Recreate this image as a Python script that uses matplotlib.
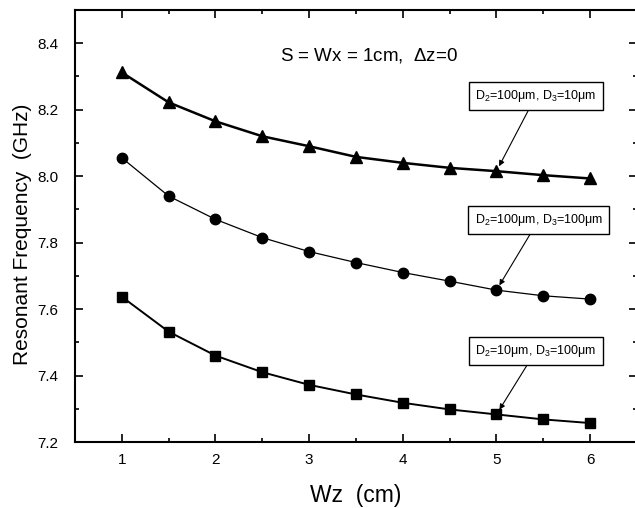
import matplotlib
matplotlib.use("Agg")
import matplotlib.pyplot as plt
from matplotlib.ticker import MultipleLocator

plt.rcParams['font.family'] = ['Liberation Sans', 'DejaVu Sans']
plt.rcParams['mathtext.fontset'] = 'custom'
plt.rcParams['mathtext.rm'] = 'Liberation Sans'
plt.rcParams['mathtext.it'] = 'Liberation Sans'

wz = [1, 1.5, 2, 2.5, 3, 3.5, 4, 4.5, 5, 5.5, 6]
f_d2_100_d3_10 = [8.312, 8.222, 8.165, 8.120, 8.090, 8.058, 8.040, 8.025, 8.015, 8.003, 7.993]
f_d2_100_d3_100 = [8.055, 7.940, 7.870, 7.815, 7.773, 7.740, 7.710, 7.684, 7.657, 7.640, 7.630]
f_d2_10_d3_100 = [7.637, 7.532, 7.460, 7.410, 7.372, 7.343, 7.318, 7.298, 7.283, 7.268, 7.257]

labels = [r"D$_2$=100$\mu$m, D$_3$=10$\mu$m",
          r"D$_2$=100$\mu$m, D$_3$=100$\mu$m",
          r"D$_2$=10$\mu$m, D$_3$=100$\mu$m"]

W, H = 635, 508
fig = plt.figure(figsize=(6.35, 5.08), dpi=100)
left, right, top, bottom = 75, 637, 10, 442
ax = fig.add_axes([left / W, 1 - bottom / H, (right - left) / W, (bottom - top) / H])

ax.plot(wz, f_d2_100_d3_10, '-^', color='black', lw=1.8, ms=8.5)
ax.plot(wz, f_d2_100_d3_100, '-o', color='black', lw=0.9, ms=7.5)
ax.plot(wz, f_d2_10_d3_100, '-s', color='black', lw=1.4, ms=6.5)

ax.set_xlim(0.5, 6.5)
ax.set_ylim(7.2, 8.5)
ax.xaxis.set_major_locator(MultipleLocator(1))
ax.xaxis.set_minor_locator(MultipleLocator(0.5))
ax.yaxis.set_minor_locator(MultipleLocator(0.1))
ax.set_yticks([7.2, 7.4, 7.6, 7.8, 8.0, 8.2, 8.4])
ax.set_yticklabels(["7.2", "7.4", "7.6", "7.8", "8.0", "8.2", "8.4"])
ax.tick_params(which='both', direction='in', top=True, right=True, width=1.2)
ax.tick_params(which='major', length=6, labelsize=11)
ax.tick_params(axis='y', which='major', pad=12)
ax.tick_params(axis='x', which='major', pad=8)
ax.tick_params(which='minor', length=3)
for s in ax.spines.values():
    s.set_linewidth(1.5)

ax.set_xlabel("Wz  (cm)", fontsize=16.5, labelpad=12)
ax.set_ylabel("Resonant Frequency  (GHz)", fontsize=15)
ax.yaxis.set_label_coords(-0.077, 0.48)

ax.text(3.64, 8.363, r"S = Wx = 1cm,  $\Delta$z=0", fontsize=13.5, ha='center', va='center')

series = [f_d2_100_d3_10, f_d2_100_d3_100, f_d2_10_d3_100]
box_pos = [(5.42, 8.241), (5.45, 7.868), (5.42, 7.474)]
for lab, ys, (bx, by) in zip(labels, series, box_pos):
    ax.annotate(lab, xy=(5, ys[8]), xytext=(bx, by), fontsize=9, ha='center', va='center',
                bbox=dict(boxstyle='square,pad=0.5', fc='white', ec='black', lw=1.0),
                arrowprops=dict(arrowstyle='-|>', color='black', lw=0.8, shrinkA=0, shrinkB=4,
                                mutation_scale=8))

fig.savefig("out.png", dpi=100)
